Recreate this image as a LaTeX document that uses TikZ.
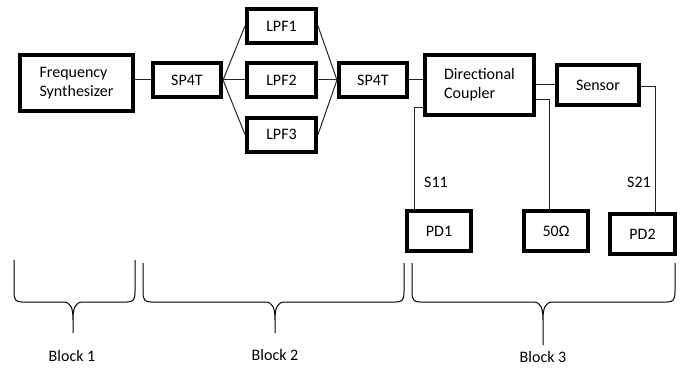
\documentclass[tikz,border=0pt]{standalone}
\usepackage{fontspec}
\setmainfont{Carlito}
\usetikzlibrary{positioning,calc}

\tikzstyle{block}  = [rectangle, draw=black, line width=4pt, fill=white, align=left, inner sep=2pt]
\tikzstyle{switch} = [block, minimum width=68pt, minimum height=34pt]
\tikzstyle{filter} = [block, minimum width=69pt, minimum height=34pt]
\tikzstyle{det}    = [block, minimum width=64pt, minimum height=40pt]
\tikzstyle{link}   = [draw=black!85, line width=1pt]
\tikzstyle{curly}  = [draw=black, line width=1pt]

% left, tip x, right, top, tip y
\newcommand{\blockbrace}[5]{%
  \draw[curly] (#1,#4) -- (#1,292) .. controls (#1,300) and (#1+2,302) .. (#1+8,302)
    -- (#2-10,302) .. controls (#2-2,302) and (#2,308) .. (#2,320) -- (#2,#5)
    -- (#2,320) .. controls (#2,308) and (#2+2,302) .. (#2+10,302)
    -- (#3-8,302) .. controls (#3-2,302) and (#3,300) .. (#3,292) -- (#3,#4);
}

\begin{document}
\begin{tikzpicture}[x=1pt, y=-1pt, font=\fontsize{16}{19}\selectfont]
    \useasboundingbox (0,0) rectangle (683,369);

    % Block 1
    \node[block, minimum width=113pt, minimum height=56pt] (synth) at (76.5,83) {Frequency\\Synthesizer};

    % Block 2
    \node[switch] (sw1) at (187,80) {SP4T};
    \node[filter] (lpf1) at (281.5,26) {LPF1};
    \node[filter] (lpf2) at (281.5,80) {LPF2};
    \node[filter] (lpf3) at (281.5,134.5) {LPF3};
    \node[switch] (sw2) at (373,80) {SP4T};

    % Block 3
    \node[block, minimum width=109pt, minimum height=60pt] (coup) at (479.5,85) {Directional\\Coupler};
    \node[block, minimum width=82pt, minimum height=40pt] (sens) at (598,85) {Sensor};
    \node[det] (pd1) at (439,231) {PD1};
    \node[det] (load) at (556,231) {50Ω};
    \node[det, minimum width=65pt] (pd2) at (642.5,234) {PD2};

    \draw[link] (synth.east |- sw1.west) -- (sw1.west);
    \draw[link] (sw1.east) -- (lpf1.west);
    \draw[link] (sw1.east) -- (lpf2.west);
    \draw[link] (sw1.east) -- (lpf3.west);
    \draw[link] (lpf1.east) -- (sw2.west);
    \draw[link] (lpf2.east) -- (sw2.west);
    \draw[link] (lpf3.east) -- (sw2.west);
    \draw[link] (sw2.east) -- (sw2.east -| coup.west);
    \draw[link] (coup.east) -- (sens.west);
    \draw[link] ([yshift=-14pt]coup.east) -| ([xshift=-7pt]load.north);
    \draw[link] ([yshift=-22pt]coup.west) -| ([xshift=-25pt]pd1.north);
    \draw[link] ([yshift=-2pt]sens.east) -| ([xshift=12.5pt]pd2.north);

    \node (s11) at (436,182) {S11};
    \node (s21) at (639,182) {S21};

    % braces
    \blockbrace{14}{73}{135}{260}{333}
    \blockbrace{143}{275}{404}{263}{333}
    \blockbrace{412}{543}{675}{263}{345}

    \node (blk1) at (72,356) {Block 1};
    \node (blk2) at (275,355) {Block 2};
    \node (blk3) at (543,357) {Block 3};
\end{tikzpicture}
\end{document}
